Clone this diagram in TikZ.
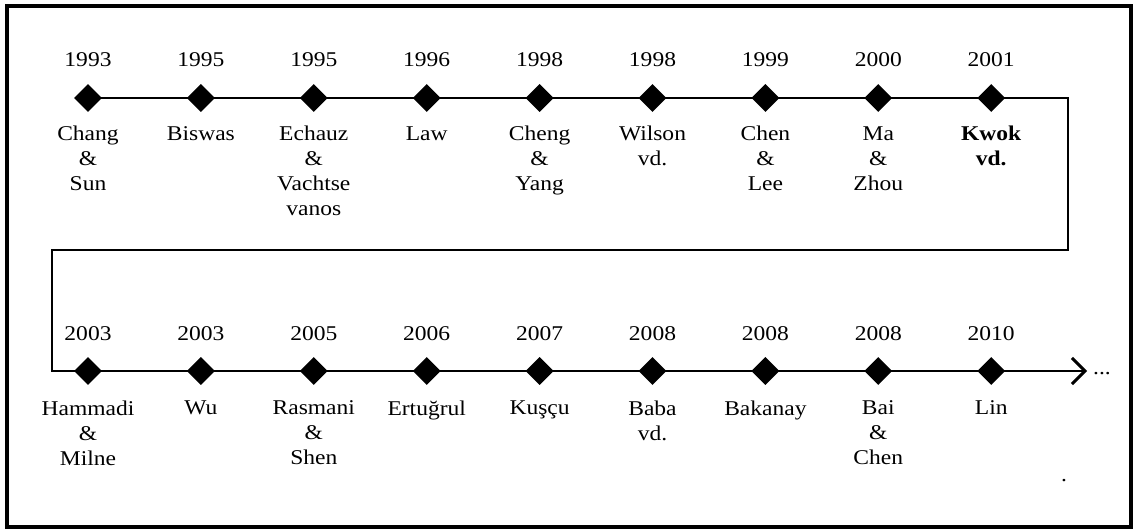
\documentclass[tikz,border=0pt]{standalone}
\usepackage{fontspec}
\setmainfont{Liberation Serif}[FakeStretch=1.12]
\usetikzlibrary{shapes.geometric, arrows.meta, positioning, backgrounds}

\begin{document}
\begin{tikzpicture}[
    x=1pt, y=1pt,
    event/.style={diamond, fill=black, inner sep=0pt, minimum width=28pt, minimum height=28pt},
    year/.style={inner sep=0pt, font=\fontsize{21}{25}\selectfont},
    author/.style={inner sep=0pt, align=center, font=\fontsize{21}{25}\selectfont},
    timeline/.style={line width=1.6pt},
    node distance=84.5pt
]
    \useasboundingbox (0,0) rectangle (1133,529);

    % frame
    \draw[line width=4pt] (7,2) rectangle (1131,523);

    % first row
    \node[event] (e1) at (88,431) {};
    \node[event, right=of e1] (e2) {};
    \node[event, right=of e2] (e3) {};
    \node[event, right=of e3] (e4) {};
    \node[event, right=of e4] (e5) {};
    \node[event, right=of e5] (e6) {};
    \node[event, right=of e6] (e7) {};
    \node[event, right=of e7] (e8) {};
    \node[event, right=of e8] (e9) {};

    \node[year, above=16.5pt of e1] (ye1) {1993};
    \node[year, above=16.5pt of e2] (ye2) {1995};
    \node[year, above=16.5pt of e3] (ye3) {1995};
    \node[year, above=16.5pt of e4] (ye4) {1996};
    \node[year, above=16.5pt of e5] (ye5) {1998};
    \node[year, above=16.5pt of e6] (ye6) {1998};
    \node[year, above=16.5pt of e7] (ye7) {1999};
    \node[year, above=16.5pt of e8] (ye8) {2000};
    \node[year, above=16.5pt of e9] (ye9) {2001};

    \node[author, below=14pt of e1] (ae1) {Chang\\\&\\Sun};
    \node[author, below=14pt of e2] (ae2) {Biswas};
    \node[author, below=14pt of e3] (ae3) {Echauz\\\&\\Vachtse\\vanos};
    \node[author, below=14pt of e4] (ae4) {Law};
    \node[author, below=14pt of e5] (ae5) {Cheng\\\&\\Yang};
    \node[author, below=14pt of e6] (ae6) {Wilson\\vd.};
    \node[author, below=14pt of e7] (ae7) {Chen\\\&\\Lee};
    \node[author, below=14pt of e8] (ae8) {Ma\\\&\\Zhou};
    \node[author, below=14pt of e9, font=\fontsize{21}{25}\selectfont\bfseries] (ae9) {Kwok\\vd.};

    % second row
    \node[event] (f1) at (88,158) {};
    \node[event, right=of f1] (f2) {};
    \node[event, right=of f2] (f3) {};
    \node[event, right=of f3] (f4) {};
    \node[event, right=of f4] (f5) {};
    \node[event, right=of f5] (f6) {};
    \node[event, right=of f6] (f7) {};
    \node[event, right=of f7] (f8) {};
    \node[event, right=of f8] (f9) {};

    \node[year, above=16pt of f1] (yf1) {2003};
    \node[year, above=16pt of f2] (yf2) {2003};
    \node[year, above=16pt of f3] (yf3) {2005};
    \node[year, above=16pt of f4] (yf4) {2006};
    \node[year, above=16pt of f5] (yf5) {2007};
    \node[year, above=16pt of f6] (yf6) {2008};
    \node[year, above=16pt of f7] (yf7) {2008};
    \node[year, above=16pt of f8] (yf8) {2008};
    \node[year, above=16pt of f9] (yf9) {2010};

    \node[author, below=15.5pt of f1] (af1) {Hammadi\\\&\\Milne};
    \node[author, below=15.5pt of f2] (af2) {Wu};
    \node[author, below=15.5pt of f3] (af3) {Rasmani\\\&\\Shen};
    \node[author, below=15.5pt of f4] (af4) {Ertuğrul};
    \node[author, below=15.5pt of f5] (af5) {Kuşçu};
    \node[author, below=15.5pt of f6] (af6) {Baba\\vd.};
    \node[author, below=15.5pt of f7] (af7) {Bakanay};
    \node[author, below=15.5pt of f8] (af8) {Bai\\\&\\Chen};
    \node[author, below=15.5pt of f9] (af9) {Lin};

    % timeline
    \coordinate (turnR) at (1068,279);
    \coordinate (turnL) at (52,279);
    \coordinate (stop) at (1087,158);
    \begin{scope}[on background layer]
        \draw[timeline, -{Straight Barb[length=13pt, width=26pt, line width=3pt]}]
            (e1.center) -| (turnR) -- (turnL) |- (f1.center) -- (stop);
    \end{scope}
    \node[year, anchor=base west] (more) at (1093,154) {...};
    \node[year, anchor=base] (dot) at (1064,47) {.};

\end{tikzpicture}
\end{document}
